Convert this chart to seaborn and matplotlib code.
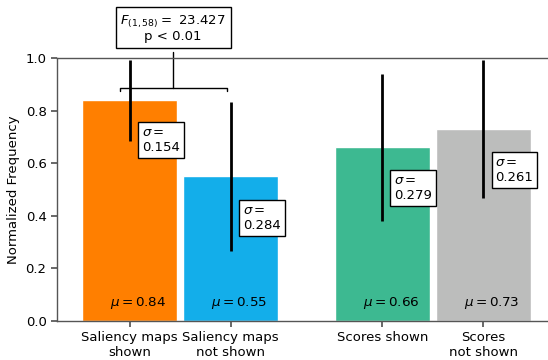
import matplotlib
matplotlib.use("Agg")
import matplotlib.pyplot as plt
import seaborn as sns
import numpy as np
import pandas as pd

# Condition names, means and standard deviations
categories = ["Saliency maps\nshown", "Saliency maps\nnot shown", "Scores shown", "Scores\nnot shown"]
positions = [0.0, 1.0, 2.5, 3.5]
means = [0.84, 0.55, 0.66, 0.73]
sds = [0.154, 0.284, 0.279, 0.261]
sd_label_y = [0.688, 0.392, 0.504, 0.574]
colors = ["#ff7f00", "#13aeea", "#3db991", "#bcbdbc"]
f_stat = "23.427"
p_text = "p < 0.01"

sns.set_theme(style="ticks")
plt.rcParams["font.family"] = ["DejaVu Sans"]
plt.rcParams["font.size"] = 9.5
plt.rcParams["mathtext.fontset"] = "dejavusans"
for key in ["text.color", "axes.labelcolor", "xtick.color", "ytick.color"]:
    plt.rcParams[key] = "black"

fig = plt.figure(figsize=(5.48, 3.60), dpi=100)
ax = fig.add_axes([57 / 548, (360 - 321) / 360, 1 - 57 / 548, 263 / 360])

df = pd.DataFrame({"pos": positions, "mean": means, "cond": categories})
sns.barplot(data=df, x="pos", y="mean", hue="cond", palette=colors,
            native_scale=True, width=0.94, legend=False, saturation=1,
            errorbar=None, ax=ax)

# standard-deviation whiskers
lo = np.array(means) - np.array(sds)
hi = np.array(means) + np.array(sds)
ax.vlines(positions, lo, hi, color="black", lw=2, zorder=5)

for x, m, s, ly in zip(positions, means, sds, sd_label_y):
    ax.text(x + 0.12, ly, f"$\\sigma=$\n{s:.3f}", ha="left", va="center",
            fontsize=9.5, zorder=6,
            bbox=dict(boxstyle="square,pad=0.3", fc="white", ec="black", lw=1))
    ax.text(x + 0.085, 0.068, f"$\\mu={m:.2f}$", ha="center", va="center",
            fontsize=9.7, zorder=6)

# significance bracket between the two saliency conditions
by, tb = 0.886, 0.875
x0, x1 = -0.094, 0.965
xm = 0.43
ax.plot([x0, x0, x1, x1], [tb, by, by, tb], color="black", lw=1, clip_on=False)
ax.plot([xm, xm], [by, 1.023], color="black", lw=1, clip_on=False)
ax.text(xm, 1.112, f"$F_{{(1,58)}} =$ {f_stat}\n{p_text}", ha="center", va="center",
        fontsize=9.5, clip_on=False, linespacing=1.0,
        bbox=dict(boxstyle="square,pad=0.35", fc="white", ec="black", lw=1))

ax.set_xlim(-0.72, 4.14)
ax.set_ylim(0, 1.0)
ax.set_yticks([0, 0.2, 0.4, 0.6, 0.8, 1.0])
ax.set_xticks(positions)
ax.set_xticklabels(categories, fontsize=9.5)
ax.tick_params(axis="y", labelsize=9.5)
ax.set_xlabel("")
ax.set_ylabel("Normalized Frequency", fontsize=9.5)
for side in ["left", "top", "bottom"]:
    ax.spines[side].set_color("#555555")
    ax.spines[side].set_linewidth(1.0)
ax.spines["right"].set_visible(False)
ax.tick_params(color="#555555", length=4)

fig.savefig("out.png", dpi=100)
